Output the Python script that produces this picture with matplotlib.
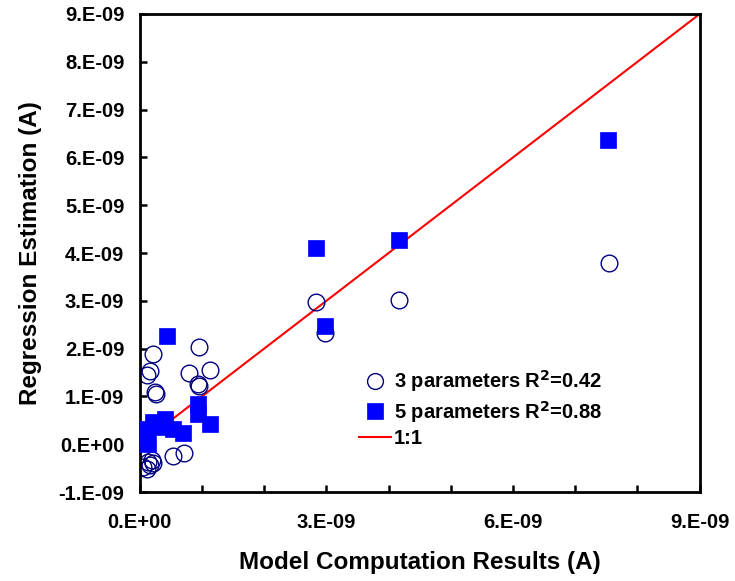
import numpy as np
import matplotlib.pyplot as plt
from matplotlib.ticker import MultipleLocator, FuncFormatter

plt.rcParams['font.family'] = ['Liberation Sans', 'DejaVu Sans']
plt.rcParams['font.weight'] = 'bold'

# model computation (x) vs regression estimate (y), in units of 1e-9 A
model3 = [7.55, 4.17, 2.84, 2.98,
          0.22, 0.125, 0.17, 0.24, 0.26, 0.79, 0.96, 1.13, 0.93, 0.96,
          0.54, 0.71, 0.06, 0.14, 0.20, 0.22, 0.12, 0.17]
est3 = [3.79, 3.01, 2.97, 2.32,
        1.88, 1.44, 1.53, 1.09, 1.05, 1.49, 2.04, 1.56, 1.27, 1.21,
        -0.25, -0.19, -0.47, -0.37, -0.33, -0.40, -0.51, -0.44]

model5 = [7.52, 4.17, 2.84, 2.98,
          0.44, 0.09, 0.13, 0.22, 0.41, 0.54, 0.70, 0.94, 0.94, 1.13, 0.12, 0.28]
est5 = [6.36, 4.27, 4.10, 2.47,
        2.26, 0.33, 0.01, 0.47, 0.52, 0.33, 0.24, 0.85, 0.64, 0.42, 0.19, 0.36]

scale = 1e-9
model3 = np.array(model3) * scale
est3 = np.array(est3) * scale
model5 = np.array(model5) * scale
est5 = np.array(est5) * scale

fig = plt.figure(figsize=(7.35, 5.81), dpi=100)
ax = fig.add_axes([0.19, 0.153, 0.762, 0.823])

ax.plot([0, 9e-9], [0, 9e-9], color='red', lw=1.5, label='1:1', zorder=1)
ax.plot(model3, est3, 'o', ms=12, mfc='none', mec='#000080', mew=1.0,
        label='3 parameters R$^\\mathbf{2}$=0.42', zorder=2)
ax.plot(model5, est5, 's', ms=11.5, mfc='#0000FF', mec='#0000FF', mew=0.5,
        label='5 parameters R$^\\mathbf{2}$=0.88', zorder=3)

ax.set_xlim(0, 9e-9)
ax.set_ylim(-1e-9, 9e-9)
ax.xaxis.set_major_locator(MultipleLocator(3e-9))
ax.xaxis.set_minor_locator(MultipleLocator(1e-9))
ax.yaxis.set_major_locator(MultipleLocator(1e-9))

def sci(v, pos):
    if abs(v) < 1e-15:
        return '0.E+00'
    m = round(v / 1e-9)
    return '%d.E-09' % m

ax.xaxis.set_major_formatter(FuncFormatter(sci))
ax.yaxis.set_major_formatter(FuncFormatter(sci))

for s in ax.spines.values():
    s.set_linewidth(2.0)
ax.tick_params(which='both', direction='in', width=1.8, labelsize=14.5)
ax.tick_params(which='major', length=5)
ax.tick_params(which='minor', length=5)
ax.tick_params(axis='y', pad=11)
ax.tick_params(axis='x', pad=15)

ax.set_xlabel('Model Computation Results (A)', fontsize=17.5, fontweight='bold', labelpad=14)
ax.set_ylabel('Regression Estimation (A)', fontsize=17.5, fontweight='bold', labelpad=12)

h, l = ax.get_legend_handles_labels()
ax.legend([h[1], h[2], h[0]], [l[1], l[2], l[0]], loc='upper left',
          bbox_to_anchor=(0.373, 0.28), frameon=False, fontsize=14.5,
          borderpad=0, handlelength=1.6, handletextpad=0.15, labelspacing=0.22,
          markerscale=0.95)

fig.savefig('out.png', dpi=100)
